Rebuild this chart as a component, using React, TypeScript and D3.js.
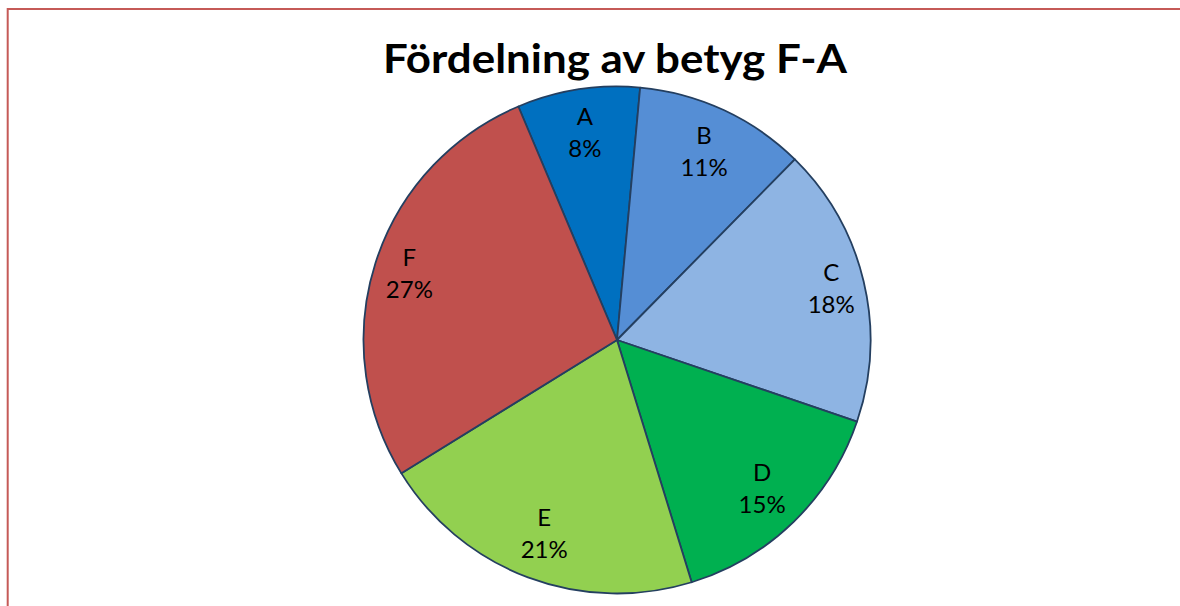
import React, { useEffect, useRef } from "react";
import * as d3 from "d3";

// grade distribution
const grades = ["A", "B", "C", "D", "E", "F"];
const shares = [7.8, 10.9, 17.8, 15.0, 20.9, 27.4];
const sliceColors = ["#0070C0", "#558ED5", "#8EB4E3", "#00B050", "#92D050", "#C0504D"];
const chartTitle = "Fördelning av betyg F-A";

export default function App() {
  const ref = useRef<SVGSVGElement>(null);

  useEffect(() => {
    const W = 1180,
      H = 606;
    const cx = 617,
      cy = 340,
      r = 253.5;

    const svg = d3.select(ref.current);
    svg.selectAll("*").remove();
    svg.attr("width", W).attr("height", H);

    svg.append("rect").attr("width", W).attr("height", H).attr("fill", "#fff");

    // chart area border (only top and left are visible in the frame)
    svg
      .append("rect")
      .attr("x", 7.7)
      .attr("y", 9)
      .attr("width", W + 20)
      .attr("height", H + 20)
      .attr("fill", "none")
      .attr("stroke", "#C55A57")
      .attr("stroke-width", 2);

    // Title
    svg
      .append("text")
      .attr("x", 615)
      .attr("y", 73)
      .attr("text-anchor", "middle")
      .attr("font-family", "Lato, 'Open Sans', sans-serif")
      .attr("font-weight", "bold")
      .attr("font-size", 40)
      .attr("textLength", 464)
      .attr("lengthAdjust", "spacingAndGlyphs")
      .attr("fill", "#000")
      .text(chartTitle);

    const total = d3.sum(shares);
    const start = (-22.9 * Math.PI) / 180;

    const pie = d3
      .pie<number>()
      .sort(null)
      .value((d) => d)
      .startAngle(start)
      .endAngle(start + 2 * Math.PI);

    const arcs = pie(shares);
    const arc = d3.arc<d3.PieArcDatum<number>>().innerRadius(0).outerRadius(r);

    const g = svg.append("g").attr("transform", `translate(${cx}, ${cy})`);

    g.selectAll("path")
      .data(arcs)
      .join("path")
      .attr("d", arc)
      .attr("fill", (d, i) => sliceColors[i])
      .attr("stroke", "#243F60")
      .attr("stroke-width", 1.8)
      .attr("stroke-linejoin", "round");

    // label box sits inside the rim, pulled in by its own half extent
    const boxHalfW = 20,
      boxHalfH = 36,
      rimOffset = r * 0.978;
    const labelPos = (d: d3.PieArcDatum<number>) => {
      const a = (d.startAngle + d.endAngle) / 2;
      const dist =
        rimOffset - (boxHalfW * Math.abs(Math.sin(a)) + boxHalfH * Math.abs(Math.cos(a)));
      return [dist * Math.sin(a), -dist * Math.cos(a)];
    };

    const labels = g
      .selectAll("g.lbl")
      .data(arcs)
      .join("g")
      .attr("class", "lbl")
      .attr("transform", (d) => {
        const [x, y] = labelPos(d);
        return `translate(${x}, ${y})`;
      })
      .attr("font-family", "Lato, 'Open Sans', sans-serif")
      .attr("font-size", 24)
      .attr("text-anchor", "middle")
      .attr("fill", "#000");

    labels
      .append("text")
      .attr("y", -8)
      .text((d, i) => grades[i]);

    labels
      .append("text")
      .attr("y", 24)
      .text((d) => `${Math.round((d.value / total) * 100)}%`);
  }, []);

  return (
    <svg
      ref={ref}
      style={{ position: "absolute", left: 0, top: 0, display: "block" }}
    ></svg>
  );
}
